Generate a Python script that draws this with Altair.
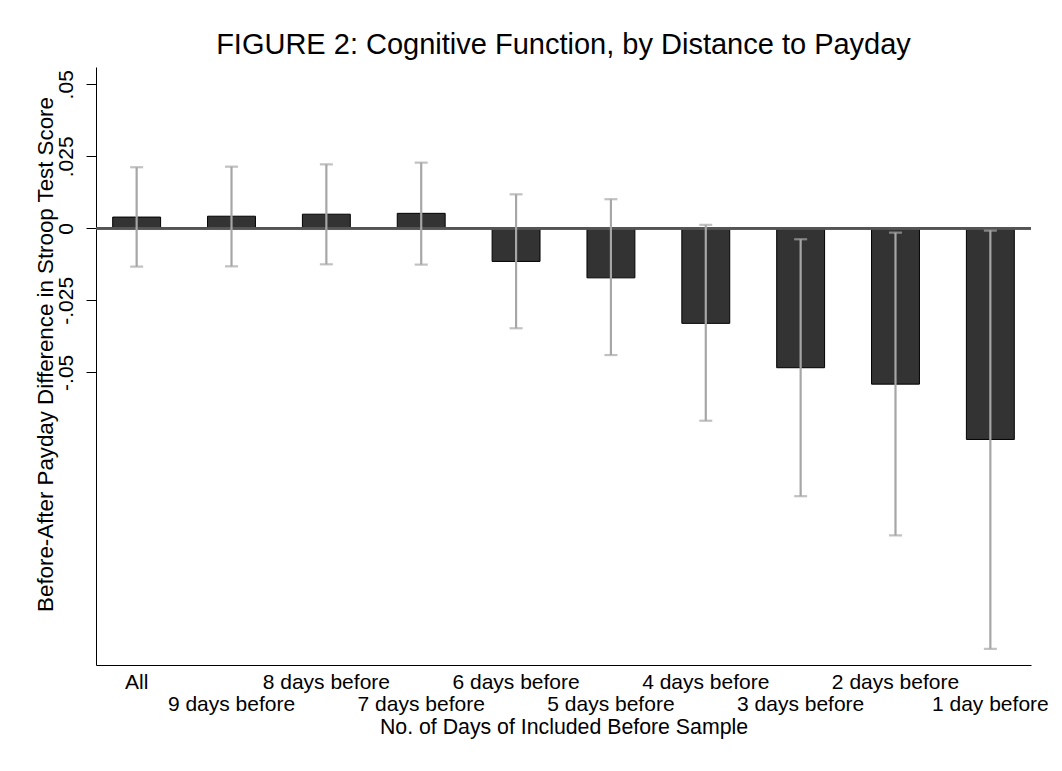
import altair as alt
import pandas as pd

categories = ["All", "9 days before", "8 days before", "7 days before", "6 days before",
              "5 days before", "4 days before", "3 days before", "2 days before", "1 day before"]
estimates = [0.0039, 0.0042, 0.0049, 0.0052, -0.0115, -0.0172, -0.0330, -0.0484, -0.0541, -0.0733]
ci_upper = [0.0212, 0.0214, 0.0222, 0.0228, 0.0118, 0.0101, 0.0012, -0.0038, -0.0015, -0.0008]
ci_lower = [-0.0133, -0.0132, -0.0125, -0.0126, -0.0347, -0.0440, -0.0668, -0.0930, -0.1066, -0.1460]
y_ticks = [-0.05, -0.025, 0, 0.025, 0.05]

df = pd.DataFrame({"cat": categories, "est": estimates, "lo": ci_lower, "hi": ci_upper})

FONT = "Liberation Sans"
lower_row = ["9 days before", "7 days before", "5 days before", "3 days before", "1 day before"]
lower_js = "[" + ",".join("'" + s + "'" for s in lower_row) + "]"

xscale = alt.Scale(paddingInner=0.495, paddingOuter=0.176)
yscale = alt.Scale(domain=[-0.1516, 0.056], nice=False, zero=False)

x_enc = alt.X("cat:N", sort=categories, scale=xscale,
              axis=alt.Axis(title="No. of Days of Included Before Sample",
                            labelAngle=0, ticks=False, tickSize=0, labelPadding=6,
                            labelLineHeight=22, labelFontSize=21, labelFont=FONT,
                            labelColor="black", labelOverlap=False,
                            labelExpr=f"indexof({lower_js}, datum.label) >= 0 ? ['', datum.label] : datum.label",
                            domainColor="black", domainWidth=1,
                            titleFont=FONT, titleFontSize=21.3, titleFontWeight="normal",
                            titleColor="black", titleBaseline="alphabetic", titleY=68))

y_enc = alt.Y("est:Q", scale=yscale,
              axis=alt.Axis(title="Before-After Payday Difference in Stroop Test Score",
                            values=y_ticks, grid=False, labelAngle=270,
                            labelAlign="center", labelBaseline="alphabetic",
                            labelPadding=14, tickSize=10, tickColor="black",
                            labelFontSize=21, labelFont=FONT, labelColor="black",
                            labelExpr="datum.value == 0 ? '0' : replace(replace(format(datum.value, '.3~f'), '0.', '.'), '\u2212', '-')",
                            domainColor="black", domainWidth=1,
                            titleFont=FONT, titleFontSize=22.3, titleFontWeight="normal",
                            titleColor="black", titleAngle=270, titleAlign="center",
                            titleBaseline="alphabetic", titleX=-44, titleY=287))

bars = alt.Chart(df).mark_bar(color="#333333", stroke="black", strokeWidth=1).encode(
    x=x_enc, y=y_enc, y2=alt.datum(0))

zero = alt.Chart(df).mark_rule(color="#555555", strokeWidth=1.8).encode(
    y=alt.datum(0), x=alt.value(0), x2=alt.value(935))

err = alt.Chart(df).mark_rule(color="#a6a6a6", strokeWidth=2.2).encode(
    x=alt.X("cat:N", sort=categories), y="lo:Q", y2="hi:Q")

cap_hi = alt.Chart(df).mark_tick(color="#a6a6a6", thickness=2.2, size=13, orient="horizontal").encode(
    x=alt.X("cat:N", sort=categories), y="hi:Q")
cap_lo = alt.Chart(df).mark_tick(color="#a6a6a6", thickness=2.2, size=13, orient="horizontal").encode(
    x=alt.X("cat:N", sort=categories), y="lo:Q")

chart = alt.layer(bars, zero, err, cap_hi, cap_lo).properties(
    width=935, height=598,
    title=alt.TitleParams("FIGURE 2: Cognitive Function, by Distance to Payday",
                          font=FONT, fontSize=29, fontWeight="normal", color="black",
                          anchor="middle", frame="group", baseline="alphabetic",
                          offset=11, dy=27),
    autosize=alt.AutoSizeParams(type="none"),
    padding={"left": 96, "top": 67, "right": 31, "bottom": 106},
    background="white",
).configure_view(stroke=None)

chart.save("out.html", embed_options={"renderer": "svg", "actions": False})
